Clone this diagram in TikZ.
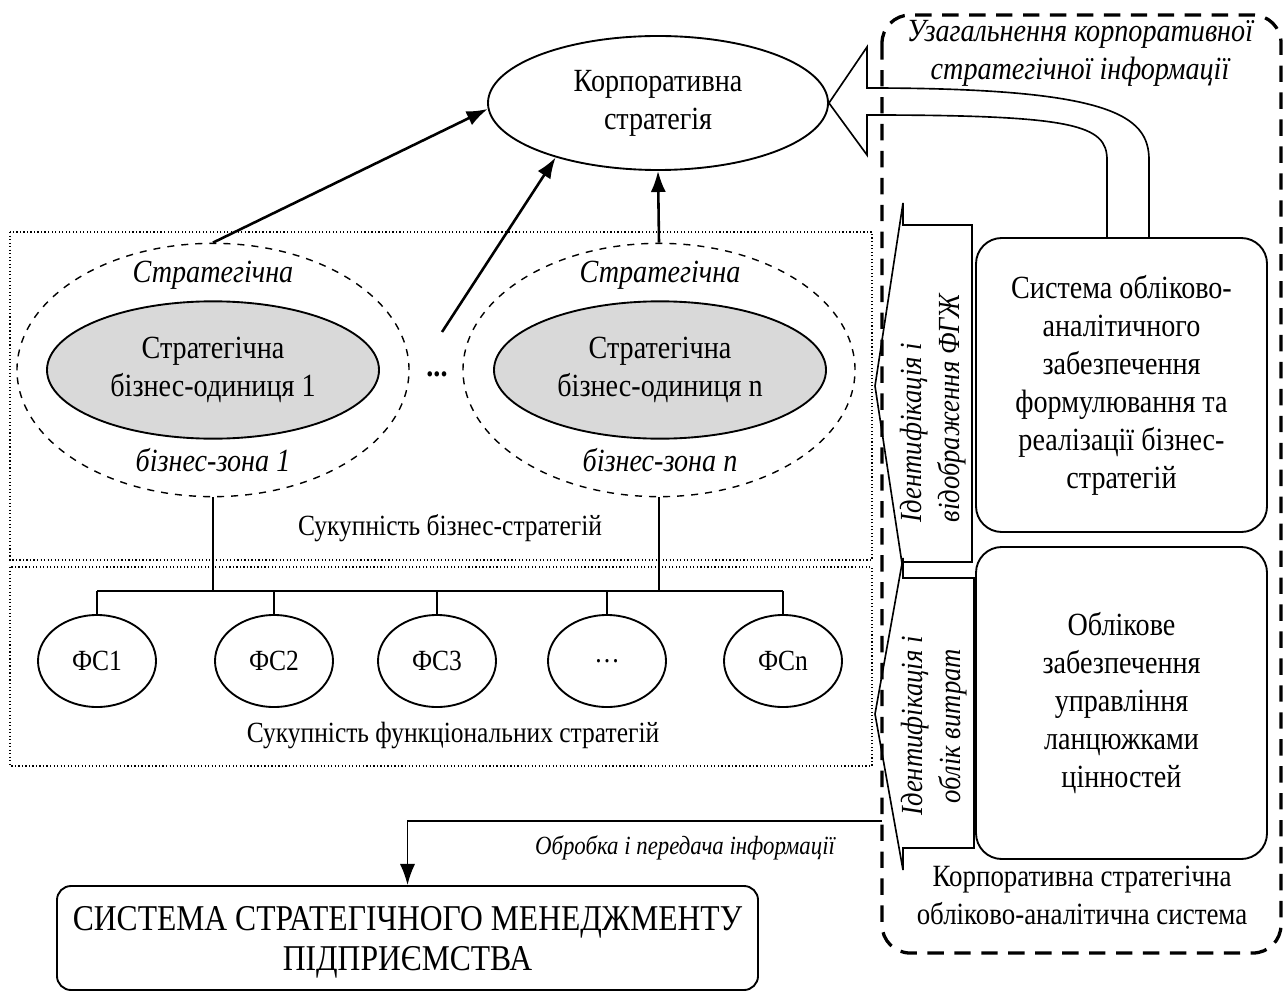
\documentclass[tikz,border=0pt]{standalone}
\usepackage{fontspec}
\setmainfont{Liberation Serif}[FakeStretch=0.87]
\usetikzlibrary{arrows.meta,shapes.geometric,positioning}
\newcommand\basefont{\fontsize{12.5}{16.2}\selectfont}
\newcommand\bigfont{\fontsize{13.8}{16.2}\selectfont}
\newcommand\smallfont{\fontsize{11.2}{14}\selectfont}
\newcommand\hugefont{\fontsize{15.5}{17}\selectfont}
\tikzset{
    ell/.style={draw,ellipse,line width=0.8pt,inner sep=0pt,align=center,font=\bigfont},
    zone/.style={draw,ellipse,dashed,line width=0.6pt,minimum width=5.88cm,minimum height=3.8cm},
    unit/.style={ell,fill=gray!30,minimum width=4.98cm,minimum height=2.06cm},
    fs/.style={ell,font=\basefont,minimum width=1.77cm,minimum height=1.38cm},
    rbox/.style={draw,rounded corners=11pt,line width=0.8pt,align=center,font=\bigfont},
    ital/.style={font=\bigfont\itshape},
    vert/.style={font=\fontsize{13.1}{16.2}\selectfont\itshape,rotate=90},
    frame/.style={line width=1.4pt,dash pattern=on 7pt off 4.5pt,rounded corners=12pt},
    cont/.style={densely dotted,line width=0.5pt},
    hollow/.style={draw,line width=0.7pt,line join=miter}
}
\begin{document}
\begin{tikzpicture}[x=0.015cm,y=-0.015cm,>={Latex[length=9pt,width=6.5pt]},font=\basefont]
    \useasboundingbox (0,0) rectangle (1285,991);
    \node[ell,minimum width=5.1cm,minimum height=2.01cm] (corp) at (658,103) {Корпоративна\\стратегія};
    % business strategies
    \draw[cont] (10,232) rectangle (872,560);
    \draw[cont] (10,567) rectangle (872,766);
    \node[zone] (z1) at (213,370) {};
    \node[zone] (zn) at (659,370) {};
    \node[unit] (u1) at (213,370) {Стратегічна\\бізнес-одиниця 1};
    \node[unit] (un) at (660,370) {Стратегічна\\бізнес-одиниця n};
    \node[ital] (s1) at (213,275) {Стратегічна};
    \node[ital] (b1) at (213,460) {бізнес-зона 1};
    \node[ital] (sn) at (660,275) {Стратегічна};
    \node[ital] (bn) at (660,460) {бізнес-зона n};
    \node[font=\bigfont\bfseries] (dots) at (437,374) {...};
    \coordinate (dtop) at (442,332);
    \node (bsum) at (450,528) {Сукупність бізнес-стратегій};
    \draw[->,line width=1.1pt] (z1.north) -- (corp.182);
    \draw[->,line width=1.1pt] (dtop) -- (corp.208);
    \draw[->,line width=1.1pt] (zn.north) -- (corp.south);
    % functional strategies
    \foreach \i/\x/\t in {1/97/ФС1,2/274/ФС2,3/437/ФС3,4/607/…,5/783/ФСn}
        \node[fs] (fs\i) at (\x,661) {\t};
    \node (fsum) at (453,735) {Сукупність функціональних стратегій};
    \coordinate (bus) at (0,591);
    \draw[line width=0.7pt] (fs1.north |- bus) -- (fs5.north |- bus);
    \foreach \i in {1,...,5}
        \draw[line width=0.7pt] (fs\i.north) -- (fs\i.north |- bus);
    \draw[line width=0.7pt] (z1.south) -- (z1.south |- bus);
    \draw[line width=0.7pt] (zn.south) -- (zn.south |- bus);
    % accounting system
    \draw[hollow] (corp.east) -- (867,47) -- (867,88) .. controls (1110,88) and (1149,115) .. (1149,160) -- (1149,238)
        (1107,238) -- (1107,160) .. controls (1107,125) and (1075,115) .. (867,115) -- (867,155) -- (corp.east);
    \node[rbox,minimum width=4.365cm,minimum height=4.41cm] (boxa) at (1121.5,385)
        {Система обліково-\\аналітичного\\забезпечення\\формулювання та\\реалізації бізнес-\\стратегій};
    \node[rbox,minimum width=4.365cm,minimum height=4.68cm] (boxb) at (1121.5,703)
        {Облікове\\забезпечення\\управління\\ланцюжками\\цінностей};
    \draw[hollow] (875,386) -- (903,203) -- (903,225) -- (972,225) -- (972,562) -- (903,562) -- (903,570) -- cycle;
    \draw[hollow] (875,714) -- (903,558) -- (903,578) -- (974,578) -- (974,848) -- (903,848) -- (903,870) -- cycle;
    \node[vert,align=left] (id1) at (933,408) {Ідентифікація і\\відображення ФГЖ};
    \node[vert,align=center] (id2) at (934,726) {Ідентифікація і\\облік витрат};
    \draw[frame] (882,15) rectangle (1281,953);
    \node[ital,align=center] (gen) at (1080,53) {Узагальнення корпоративної\\стратегічної інформації};
    \node[font=\fontsize{13.2}{16.2}\selectfont,align=center] (casys) at (1082,895) {Корпоративна стратегічна\\обліково-аналітична система};
    % management system
    \node[draw,rounded corners=6pt,line width=0.8pt,minimum width=10.515cm,minimum height=1.56cm,align=center,font=\hugefont] (sys) at (407.5,938)
        {\rule{0pt}{14pt}СИСТЕМА СТРАТЕГІЧНОГО МЕНЕДЖМЕНТУ\\ПІДПРИЄМСТВА};
    \coordinate (fr) at (882,821);
    \draw[->,line width=0.8pt] (fr) -| (sys.north);
    \node[font=\smallfont\itshape] (proc) at (685,848) {Обробка і передача інформації};
\end{tikzpicture}
\end{document}
